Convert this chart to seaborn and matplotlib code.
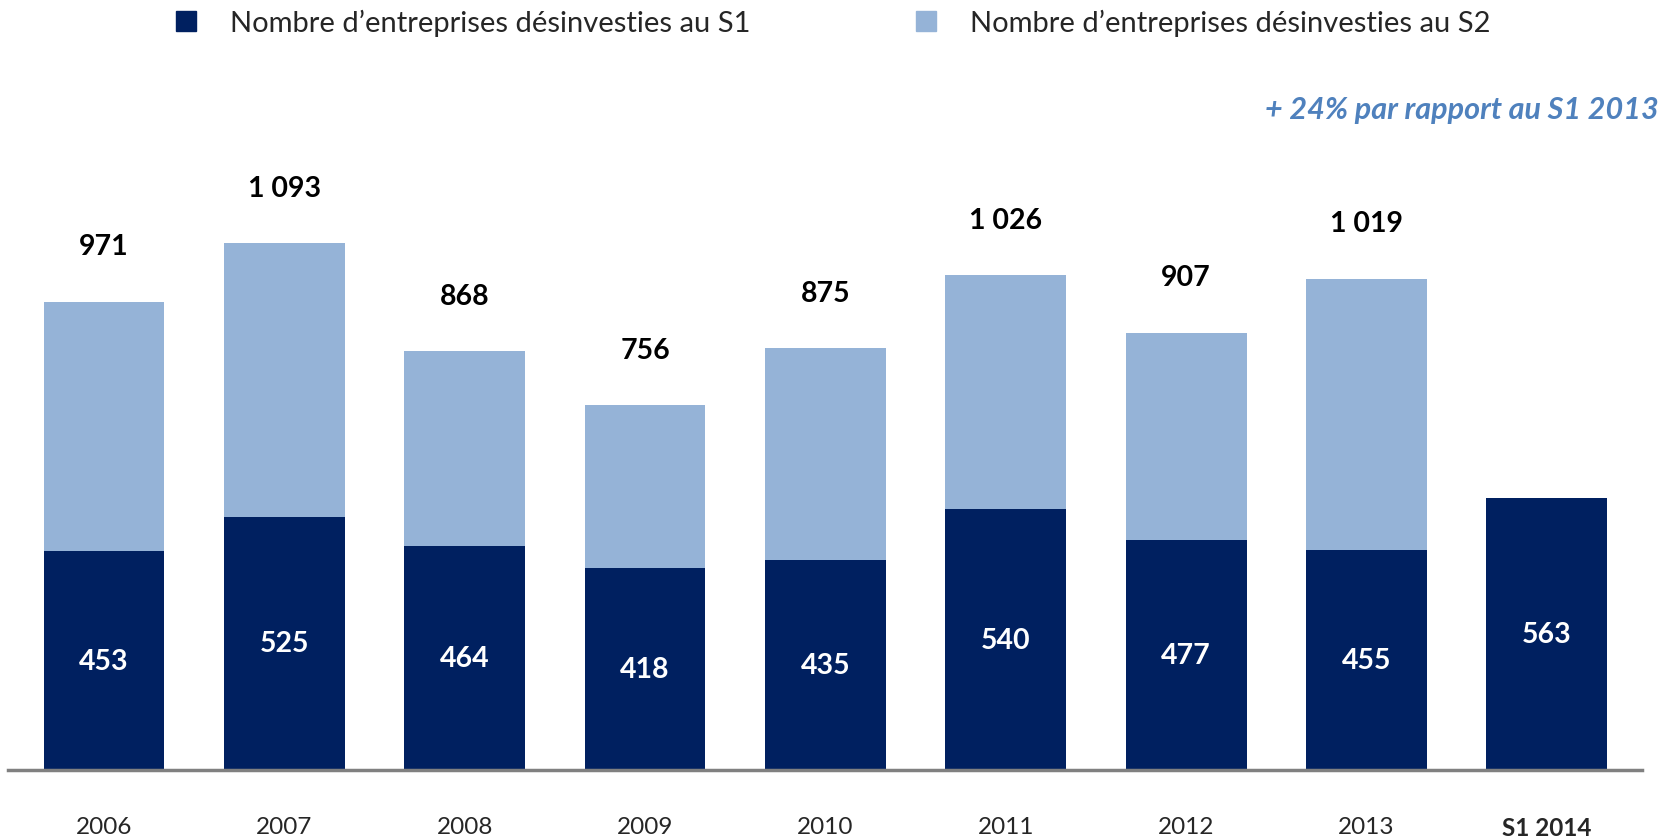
import matplotlib
matplotlib.use("Agg")
import matplotlib.pyplot as plt
from matplotlib.lines import Line2D
import seaborn as sns

# Data
years = ["2006", "2007", "2008", "2009", "2010", "2011", "2012", "2013", "S1 2014"]
s1 = [453, 525, 464, 418, 435, 540, 477, 455, 563]
totals = [971, 1093, 868, 756, 875, 1026, 907, 1019, None]

dark = "#002060"
light = "#95B3D7"
note_color = "#4F81BD"

sns.set_theme(style="white")
plt.rcParams["font.family"] = ["Lato", "DejaVu Sans"]

fig = plt.figure(figsize=(16.76, 8.37), dpi=100)
ax = fig.add_axes([0.005, 0.0792, 0.975, 0.844])

# light bar = full year total (S1 + S2), dark bar = S1 on top of it
light_vals = [t if t is not None else s for t, s in zip(totals, s1)]
sns.barplot(x=years, y=light_vals, color=light, saturation=1, width=0.67,
            linewidth=0, ax=ax)
sns.barplot(x=years, y=s1, color=dark, saturation=1, width=0.67,
            linewidth=0, ax=ax)

ax.set_xlim(-0.53, 8.53)
ax.set_ylim(0, 1466)

for i, v in enumerate(s1):
    ax.text(i, v / 2, str(v), ha="center", va="center", color="white",
            fontsize=20.5, fontweight="bold")

for i, t in enumerate(totals):
    if t is None:
        continue
    lab = f"{t:,}".replace(",", " ")
    ax.text(i, t + 115, lab, ha="center", va="center", color="black",
            fontsize=20.5, fontweight="bold")

# axes styling
for side in ["top", "right", "left"]:
    ax.spines[side].set_visible(False)
ax.spines["bottom"].set_color("#808080")
ax.spines["bottom"].set_linewidth(2.5)
ax.set_yticks([])
ax.set_ylabel("")
ax.tick_params(axis="x", length=0, pad=33, labelsize=17.5)
for lbl in ax.get_xticklabels():
    if lbl.get_text() == "S1 2014":
        lbl.set_fontweight("bold")

fig.text(0.990, 0.869, "+ 24% par rapport au S1 2013",
         ha="right", va="center", color=note_color, fontsize=22,
         fontweight="bold", fontstyle="italic")

labels = ["Nombre d\u2019entreprises d\u00e9sinvesties au S1",
          "Nombre d\u2019entreprises d\u00e9sinvesties au S2"]
for col, lab, x0 in zip([dark, light], labels, [0.102, 0.5437]):
    h = Line2D([], [], marker="s", linestyle="", markersize=14, color=col)
    fig.legend([h], [lab], loc="center left", bbox_to_anchor=(x0, 0.972),
               frameon=False, fontsize=21, handletextpad=1.03,
               handlelength=1.0, borderpad=0, borderaxespad=0)

fig.savefig("out.png", dpi=100)
